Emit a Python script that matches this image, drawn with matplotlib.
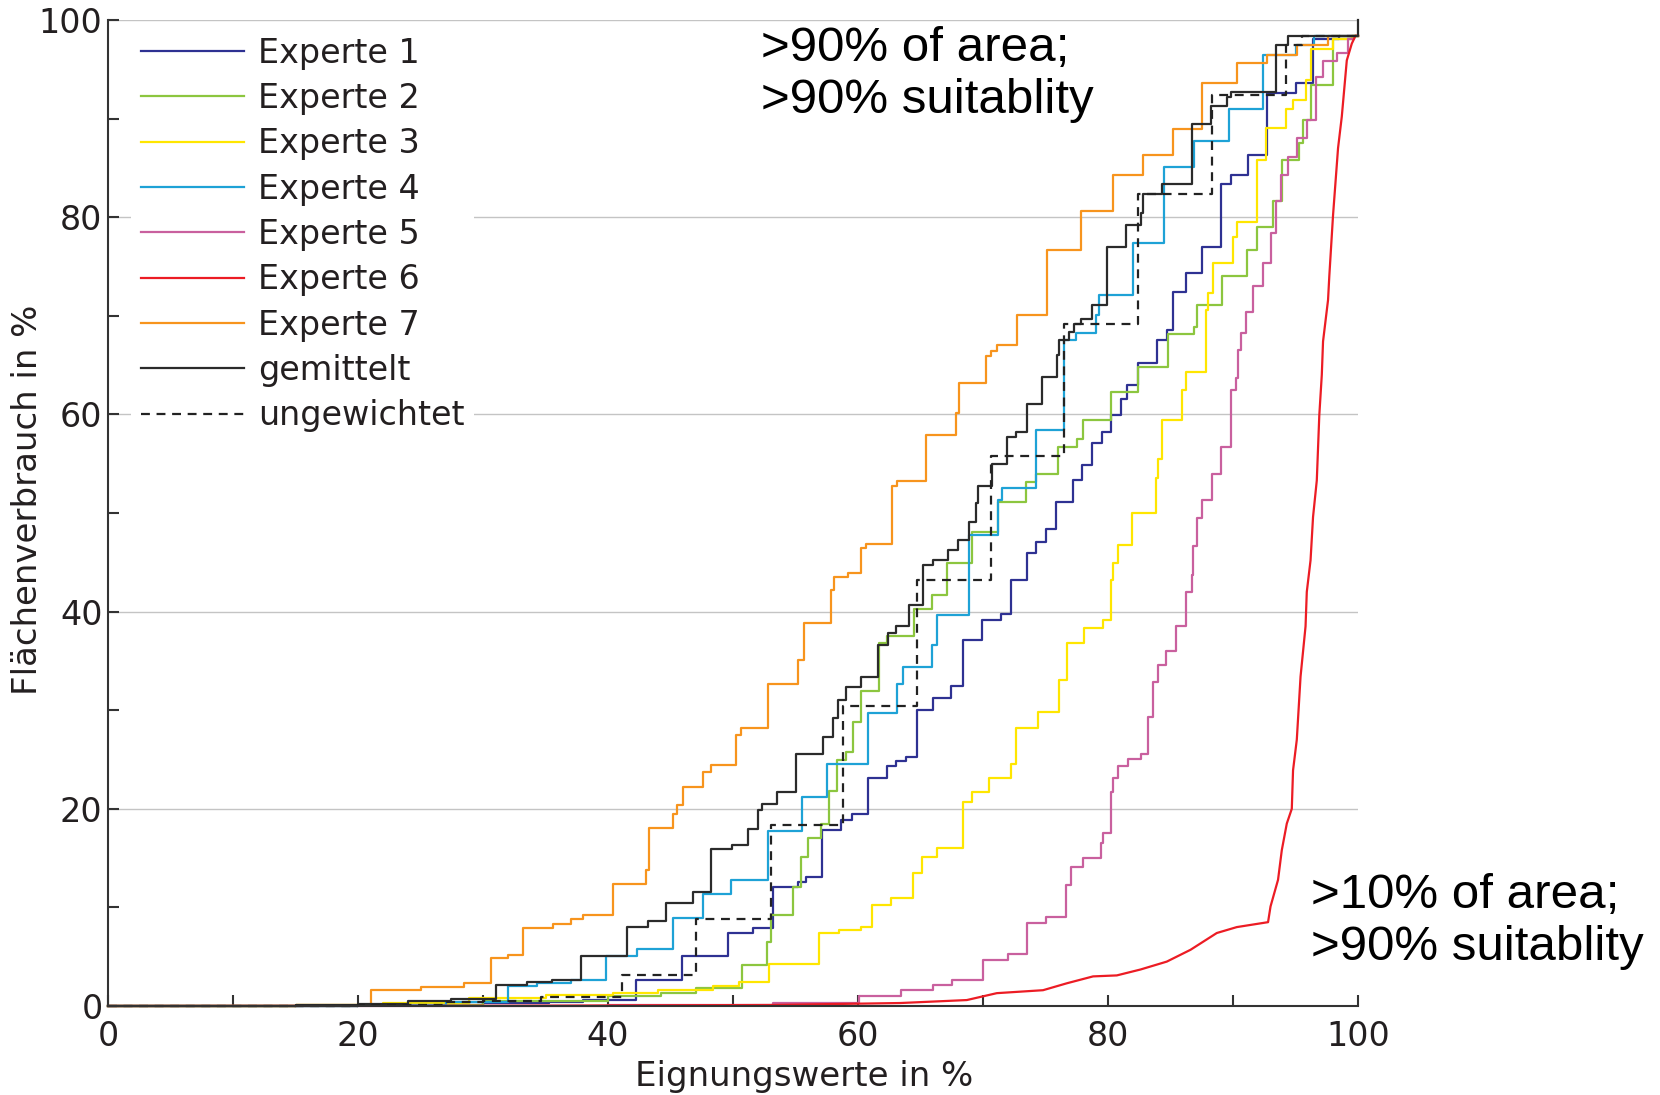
import matplotlib.pyplot as plt
from matplotlib.ticker import MultipleLocator

# ══════════════════════════════════════════
# Daten: Eignungswert [%] -> kumulierter Flächenverbrauch [%]
# Stufen: y gilt ab x bis zum nächsten x (steps-post)
# ══════════════════════════════════════════
e1_x = [0, 20, 30, 35.3, 38, 42.2, 45.9, 49.6, 51.6, 53.2, 55.2, 55.8, 57.1, 58.6, 59.5, 60.8,
        62.3, 63.0, 63.8, 64.7, 66.0, 67.4, 68.4, 69.9, 71.4, 72.2, 73.5, 74.2, 75.0, 75.8,
        77.2, 77.9, 78.7, 79.5, 80.2, 81.0, 81.5, 82.4, 83.9, 84.7, 85.2, 86.2, 87.5, 89.0,
        89.8, 91.2, 92.7, 95.0, 96.4, 98.5, 100]
e1_y = [0, 0.1, 0.3, 0.4, 0.6, 2.6, 5.1, 7.4, 7.9, 12.1, 12.6, 13.1, 17.8, 18.9, 19.5, 23.1,
        24.3, 24.8, 25.3, 30.0, 31.2, 32.4, 37.1, 39.1, 39.8, 43.2, 45.9, 47.1, 48.4, 51.1,
        53.3, 54.9, 57.1, 58.2, 59.9, 61.6, 63.0, 65.2, 67.5, 68.6, 72.4, 74.3, 77.0, 83.4,
        84.3, 86.3, 92.6, 93.6, 98.1, 98.4, 98.4]

e2_x = [0, 20, 30, 40, 44.2, 47, 50.7, 52.7, 53.0, 54.8, 55.4, 56.0, 57.0, 57.7, 58.3, 59.0,
        59.6, 60.2, 61.7, 62.3, 64.5, 65.9, 67.1, 69.1, 71.2, 73.4, 74.2, 76.0, 77.5, 78.0,
        80.2, 82.4, 84.8, 86.9, 87.1, 89.1, 91.1, 91.9, 93.2, 93.9, 95.3, 95.6, 96.2, 98.0,
        99.5, 100]
e2_y = [0, 0.1, 0.5, 1.0, 1.3, 1.8, 4.2, 6.5, 9.2, 12.1, 15.1, 17.0, 18.5, 21.8, 24.9, 25.8,
        28.8, 31.9, 36.8, 37.5, 40.3, 41.7, 44.9, 48.1, 51.1, 53.1, 54.0, 56.7, 57.5, 59.4,
        62.3, 64.8, 68.1, 68.9, 71.1, 74.0, 76.7, 79.0, 81.6, 85.8, 87.5, 89.9, 93.4, 98.1,
        98.4, 98.4]

e3_x = [0, 15, 22, 28.9, 35, 40.4, 44, 48.4, 50.5, 52.9, 56.9, 58.5, 60.2, 61.1, 62.6, 64.4,
        65.1, 66.3, 68.4, 69.1, 70.5, 72.2, 72.6, 74.4, 76.1, 76.7, 78.1, 79.6, 80.2, 80.4,
        80.8, 81.9, 83.8, 84.0, 84.3, 85.9, 86.2, 87.8, 88.0, 88.4, 90.0, 90.3, 91.9, 92.6,
        94.2, 94.8, 95.8, 96.2, 98.0, 99.5, 100]
e3_y = [0, 0.1, 0.3, 0.8, 1.1, 1.3, 1.6, 2.0, 2.4, 4.3, 7.4, 7.7, 8.0, 10.2, 10.9, 13.5,
        15.1, 16.0, 20.7, 21.7, 23.1, 24.5, 28.2, 29.8, 33.1, 36.8, 38.3, 39.1, 43.2, 44.9,
        46.8, 50.0, 53.5, 55.5, 59.4, 62.5, 64.3, 70.6, 72.3, 75.3, 78.0, 79.5, 85.8, 89.0,
        91.0, 91.9, 93.9, 97.1, 98.1, 98.4, 98.4]

e4_x = [0, 20, 27, 32.0, 34.3, 37, 39.8, 42.3, 45.2, 47.6, 49.8, 52.8, 55.5, 57.5, 60.8, 63.1,
        63.6, 65.9, 66.3, 68.9, 71.2, 71.5, 74.2, 76.5, 77.4, 79.0, 79.3, 82.0, 84.5, 86.9,
        89.7, 92.4, 95.0, 96.5, 100]
e4_y = [0, 0.1, 0.4, 2.0, 2.3, 2.6, 5.1, 5.8, 8.9, 11.4, 12.8, 17.7, 21.2, 24.5, 29.7, 32.7,
        34.4, 36.6, 39.7, 47.8, 51.3, 52.5, 58.4, 67.5, 68.2, 70.1, 72.1, 77.4, 85.1, 87.7,
        91.0, 96.4, 97.5, 98.4, 98.4]

e5_x = [0, 40, 53.2, 60.1, 63.4, 66.0, 67.5, 70.0, 72, 73.5, 75, 76.6, 77.0, 78.0, 79.4, 79.6,
        80.2, 80.4, 80.8, 81.6, 82.6, 83.2, 83.6, 84.0, 84.6, 85.4, 86.2, 86.7, 86.8, 87.1,
        87.5, 88.3, 89.0, 89.8, 90.2, 90.4, 90.6, 91.0, 91.6, 92.4, 93.0, 93.4, 93.8, 94.4,
        95.1, 95.9, 96.6, 97.2, 98.3, 99.2, 99.7, 100]
e5_y = [0, 0.05, 0.3, 1.0, 1.6, 2.1, 2.6, 4.7, 5.3, 8.4, 9.0, 12.3, 14.1, 15.0, 16.5, 17.5,
        21.7, 23.1, 24.3, 25.0, 25.6, 29.3, 32.9, 34.6, 36.0, 38.5, 42.0, 43.7, 46.6, 49.5,
        51.3, 54.0, 56.7, 62.5, 63.7, 66.5, 68.2, 70.4, 73.0, 75.3, 78.4, 81.6, 84.3, 86.1,
        88.0, 89.9, 94.2, 95.8, 96.6, 98.1, 98.4, 98.4]

e6_x = [0, 30, 53, 63.4, 68.7, 71.1, 74.8, 76.7, 78.8, 80.7, 82.6, 84.7, 86.6, 88.7, 90.3, 92.8,
        93.0, 93.6, 93.9, 94.3, 94.7, 94.8, 95.1, 95.4, 95.8, 95.9, 96.2, 96.4, 96.7, 96.9,
        97.1, 97.2, 97.6, 97.7, 98.0, 98.4, 98.7, 99.1, 99.5, 99.8, 100]
e6_y = [0, 0.02, 0.1, 0.3, 0.6, 1.3, 1.6, 2.3, 3.0, 3.1, 3.7, 4.5, 5.7, 7.4, 8.0, 8.5,
        10.1, 12.8, 15.8, 18.5, 20.0, 23.9, 27.0, 33.4, 38.5, 42.0, 45.2, 49.6, 53.3, 59.9,
        64.0, 67.4, 71.6, 74.0, 80.2, 87.0, 90.2, 95.9, 97.6, 98.4, 98.4]

e7_x = [0, 15, 21.0, 25.0, 28.5, 30.6, 32.0, 33.2, 35.6, 37.0, 38.0, 40.4, 43.0, 43.3, 45.2,
        45.5, 46.0, 47.6, 48.2, 50.2, 50.6, 52.8, 55.2, 55.7, 57.8, 58.1, 59.2, 60.2, 60.6,
        62.7, 63.1, 65.4, 67.8, 68.1, 70.2, 70.6, 71.1, 72.7, 75.1, 77.8, 80.4, 82.8, 85.2,
        87.5, 90.3, 92.7, 95.1, 97.6, 100]
e7_y = [0, 0.1, 1.6, 1.9, 2.3, 4.9, 5.2, 7.9, 8.3, 8.8, 9.2, 12.4, 13.8, 18.0, 19.5,
        20.4, 22.2, 23.7, 24.4, 27.5, 28.2, 32.7, 35.1, 38.8, 42.2, 43.5, 43.9, 46.4, 46.9,
        52.7, 53.2, 57.9, 60.1, 63.2, 65.9, 66.4, 67.0, 70.1, 76.7, 80.6, 84.3, 86.3, 88.9,
        93.6, 95.6, 96.4, 97.5, 98.4, 98.4]

mean_x = [0, 15, 20, 24, 27.4, 31.0, 33.5, 35.5, 37.8, 41.5, 43.2, 44.6, 46.8, 48.2, 49.9, 51.2,
          52.0, 52.3, 53.5, 55.0, 57.2, 58.0, 58.4, 59.0, 60.2, 61.6, 62.4, 63.0, 64.1, 65.2,
          66.0, 67.2, 68.0, 68.9, 69.4, 69.6, 70.7, 71.9, 72.6, 73.5, 74.7, 75.9, 76.1, 76.9,
          77.3, 77.8, 78.7, 79.9, 81.4, 82.6, 82.8, 84.3, 86.7, 88.2, 89.5, 89.8, 93.4, 94.4,
          100]
mean_y = [0, 0.1, 0.2, 0.5, 0.7, 2.1, 2.4, 2.6, 5.1, 8.0, 8.6, 10.4, 11.6, 15.9, 16.3, 17.9,
          19.9, 20.5, 21.7, 25.6, 27.3, 29.2, 31.0, 32.3, 33.4, 36.6, 37.8, 38.5, 40.7, 44.7,
          45.2, 46.2, 47.3, 49.1, 51.0, 52.7, 55.0, 57.7, 58.2, 61.1, 63.8, 66.0, 67.5, 68.4,
          69.2, 69.7, 71.1, 77.0, 79.2, 80.4, 82.3, 83.4, 89.4, 91.3, 92.2, 92.7, 97.5, 98.4,
          100]

unw_x = [0, 20, 27, 30, 34.6, 41.1, 47.0, 53.0, 58.8, 64.7, 70.6, 76.5, 82.4, 88.3, 94.2,
         95.5, 100]
unw_y = [0, 0.1, 0.4, 0.5, 0.9, 3.1, 8.8, 18.4, 30.4, 43.2, 55.8, 69.2, 82.3, 92.4, 97.5,
         98.4, 98.4]

labels = ["Experte 1", "Experte 2", "Experte 3", "Experte 4", "Experte 5",
          "Experte 6", "Experte 7", "gemittelt", "ungewichtet"]

# ══════════════════════════════════════════
# Plot
# ══════════════════════════════════════════
fig = plt.figure(figsize=(16.6, 10.95), dpi=100)
ax = fig.add_axes([0.0651, 0.0813, 0.7530, 0.9005])

lw = 1.6
ax.plot(e1_x, e1_y, color='#2e3192', lw=lw, drawstyle='steps-post', label=labels[0], clip_on=False)
ax.plot(e2_x, e2_y, color='#8cc63f', lw=lw, drawstyle='steps-post', label=labels[1], clip_on=False)
ax.plot(e3_x, e3_y, color='#ffe600', lw=lw, drawstyle='steps-post', label=labels[2], clip_on=False)
ax.plot(e4_x, e4_y, color='#1ea2d6', lw=lw, drawstyle='steps-post', label=labels[3], clip_on=False)
ax.plot(e5_x, e5_y, color='#c9609e', lw=lw, drawstyle='steps-post', label=labels[4], clip_on=False)
ax.plot(e6_x, e6_y, color='#ec1c24', lw=lw, label=labels[5], clip_on=False)
ax.plot(e7_x, e7_y, color='#f7941d', lw=lw, drawstyle='steps-post', label=labels[6], clip_on=False)
ax.plot(mean_x, mean_y, color='#2b2b2b', lw=lw, drawstyle='steps-post', label=labels[7], clip_on=False)
ax.plot(unw_x, unw_y, color='#222222', lw=lw, ls=(0, (4, 3)), drawstyle='steps-post',
        label=labels[8], clip_on=False)

ax.set_xlim(0, 100)
ax.set_ylim(0, 100)

# Achsen
for s in ['top', 'right']:
    ax.spines[s].set_visible(False)
for s in ['left', 'bottom']:
    ax.spines[s].set_color('#333333')
    ax.spines[s].set_linewidth(1.5)

ax.xaxis.set_major_locator(MultipleLocator(20))
ax.xaxis.set_minor_locator(MultipleLocator(10))
ax.yaxis.set_major_locator(MultipleLocator(20))
ax.yaxis.set_minor_locator(MultipleLocator(10))
ax.tick_params(which='both', direction='in', length=8, width=1.5, color='#333333')
ax.tick_params(axis='x', labelsize=24, pad=10, labelcolor='#231f20')
ax.tick_params(axis='y', labelsize=24, pad=4, labelcolor='#231f20')

ax.yaxis.grid(True, color='#c4c4c4', lw=1)
ax.set_axisbelow(True)

ax.set_xlabel("Eignungswerte in %", fontsize=24.5, color='#231f20')
ax.xaxis.set_label_coords(0.557, -0.055)
ax.set_ylabel("Flächenverbrauch in %", fontsize=24.5, color='#231f20')
ax.yaxis.set_label_coords(-0.051, 0.513)

leg = ax.legend(loc='upper left', bbox_to_anchor=(0.018, 0.993), borderaxespad=0,
                fontsize=24, handlelength=3.1, handletextpad=0.42, labelspacing=0.37,
                borderpad=0.3, frameon=True, fancybox=False)
leg.get_frame().set_facecolor('white')
leg.get_frame().set_edgecolor('none')
leg.get_frame().set_alpha(1)
for t in leg.get_texts():
    t.set_color('#231f20')

fnt = ['Liberation Sans', 'DejaVu Sans']
ax.text(52.2, 94.5, ">90% of area;\n>90% suitablity", fontsize=35.5, family=fnt,
        ha='left', va='center', linespacing=1.2)
ax.text(96.2, 8.6, ">10% of area;\n>90% suitablity", fontsize=35.5, family=fnt,
        ha='left', va='center', linespacing=1.2, clip_on=False)

plt.savefig("out.png", dpi=100)
